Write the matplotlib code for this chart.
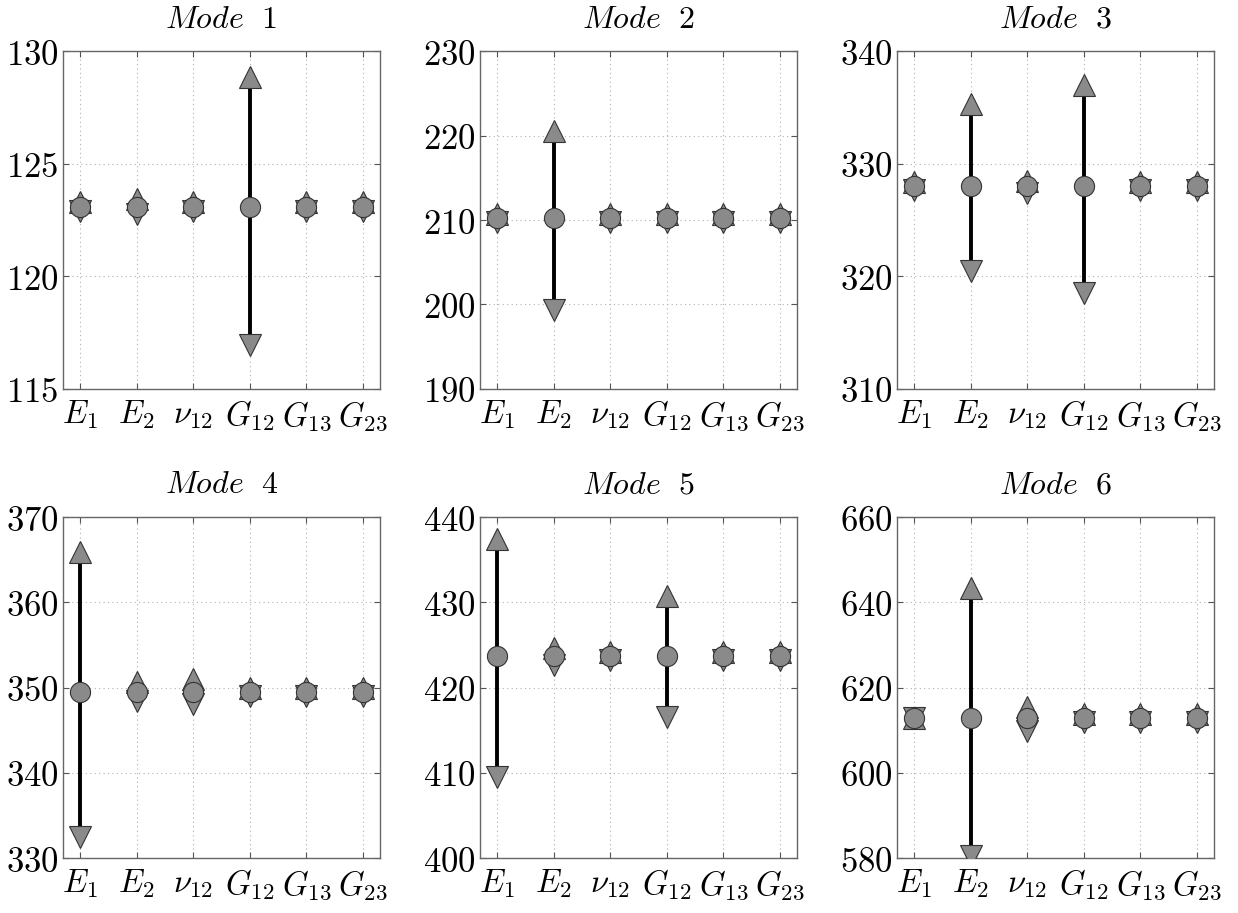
import matplotlib
matplotlib.use("Agg")
import matplotlib.pyplot as plt

plt.rcParams["mathtext.fontset"] = "cm"
plt.rcParams["font.family"] = "serif"

params = [r"$E_1$", r"$E_2$", r"$\nu_{12}$", r"$G_{12}$", r"$G_{13}$", r"$G_{23}$"]
titles = [r"$Mode\ \ 1$", r"$Mode\ \ 2$", r"$Mode\ \ 3$",
          r"$Mode\ \ 4$", r"$Mode\ \ 5$", r"$Mode\ \ 6$"]

# nominal frequency of each mode
nominal = [123.1, 210.2, 328.0, 349.5, 423.7, 612.8]

# frequency at upper / lower bound of each parameter
high = [
    [123.28, 123.42, 123.28, 128.85, 123.28, 123.28],
    [210.67, 220.6, 210.67, 210.67, 210.67, 210.67],
    [328.35, 335.3, 328.5, 337.0, 328.35, 328.35],
    [365.9, 350.7, 351.0, 349.97, 349.97, 349.97],
    [437.4, 424.6, 424.17, 430.7, 424.17, 424.17],
    [612.8, 643.4, 615.4, 613.74, 613.74, 613.74],
]
low = [
    [122.92, 122.78, 122.92, 116.95, 122.92, 122.92],
    [209.73, 199.3, 209.73, 209.73, 209.73, 209.73],
    [327.65, 320.5, 327.4, 318.55, 327.65, 327.65],
    [332.45, 348.45, 348.05, 349.03, 349.03, 349.03],
    [409.5, 422.6, 423.23, 416.6, 423.23, 423.23],
    [612.8, 580.4, 609.9, 611.86, 611.86, 611.86],
]

ylims = [(115, 130), (190, 230), (310, 340), (330, 370), (400, 440), (580, 660)]
ysteps = [5, 10, 10, 10, 10, 20]

fig = plt.figure(figsize=(12.38, 9.13), dpi=100)

lefts = [0.0509, 0.3877, 0.7246]
bottoms = [0.574, 0.0602]
heights = [0.370, 0.3735]
width = 0.256

grey = "#8a8a8a"
edge = "#333333"
x = list(range(1, 7))

for m in range(6):
    r, c = divmod(m, 3)
    ax = fig.add_axes([lefts[c], bottoms[r], width, heights[r]])

    for i in x:
        ax.plot([i, i], [low[m][i - 1], high[m][i - 1]], color="black", lw=2.8, zorder=2)
    ax.plot(x, high[m], "^", ms=16.5, mfc=grey, mec=edge, mew=0.8, ls="none", zorder=3)
    ax.plot(x, low[m], "v", ms=16.5, mfc=grey, mec=edge, mew=0.8, ls="none", zorder=3)
    ax.plot(x, [nominal[m]] * 6, "o", ms=14.5, mfc=grey, mec=edge, mew=0.8, ls="none", zorder=4)

    y0, y1 = ylims[m]
    ticks = list(range(y0, y1 + 1, ysteps[m]))
    ax.set_ylim(y0, y1)
    ax.set_yticks(ticks)
    ax.set_yticklabels([r"$%d$" % t for t in ticks], fontsize=25)
    ax.set_xlim(0.7, 6.3)
    ax.set_xticks(x)
    ax.set_xticklabels(params, fontsize=23.5)
    ax.set_title(titles[m], fontsize=23, pad=17)

    ax.grid(True, ls=(0, (1, 3)), color="#b0b0b0", lw=0.8)
    ax.set_axisbelow(True)
    ax.tick_params(direction="in", length=4, width=0.8, color="#555555",
                   top=True, right=True)
    ax.tick_params(axis="y", pad=3)
    ax.tick_params(axis="x", pad=7)
    for s in ax.spines.values():
        s.set_color("#666666")
        s.set_linewidth(1.0)

plt.savefig("out.png", dpi=100)
